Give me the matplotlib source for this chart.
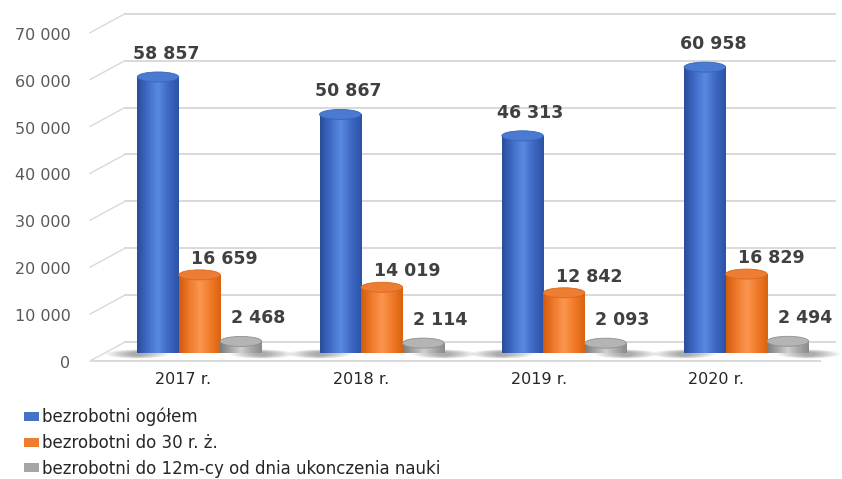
import numpy as np
import matplotlib
matplotlib.use('Agg')
import matplotlib.pyplot as plt
import matplotlib.transforms as mtransforms
from matplotlib.patches import Rectangle, Ellipse, Patch
from matplotlib.colors import LinearSegmentedColormap

# data
years = ['2017 r.', '2018 r.', '2019 r.', '2020 r.']
ogolem = [58857, 50867, 46313, 60958]
do30 = [16659, 14019, 12842, 16829]
do12m = [2468, 2114, 2093, 2494]
series_names = ['bezrobotni ogółem', 'bezrobotni do 30 r. ż.',
                'bezrobotni do 12m-cy od dnia ukonczenia nauki']
yticks = np.arange(0, 70001, 10000)

W, H = 842, 479
fig = plt.figure(figsize=(W / 100, H / 100), dpi=100)

# axes placed in pixels: x 90..840, y 0 at 353, 70000 at ~25
ax_h = 7 * 46.9
ax = fig.add_axes([90 / W, (H - 353) / H, 750 / W, ax_h / H])
upp = 70000 / ax_h          # data units per pixel (y)
xpp = 1 / 182.3             # data units per pixel (x)

for s in ax.spines.values():
    s.set_visible(False)

grid_c = '#d9d9d9'
ytr = ax.get_yaxis_transform()
back_x0 = 35 / 750
for v in yticks:
    ax.plot([back_x0, 0.993], [v + 11 * upp] * 2, color=grid_c, lw=1.4,
            transform=ytr, zorder=1, clip_on=False)
    ax.plot([0, back_x0], [v - 8 * upp, v + 11 * upp], color=grid_c, lw=1.0,
            transform=ytr, zorder=1, clip_on=False)
# floor front edge
ax.plot([2 / 750, 730 / 750], [-8 * upp] * 2, color=grid_c, lw=1.4,
        transform=ytr, zorder=1, clip_on=False)

cmaps = [
    LinearSegmentedColormap.from_list('b', ['#2a4c98', '#3f6cc8', '#5a8ae0', '#3d68c4', '#2b52a4']),
    LinearSegmentedColormap.from_list('o', ['#d25a0c', '#ee7a2c', '#fb9650', '#f07a28', '#d9620f']),
    LinearSegmentedColormap.from_list('g', ['#7c7c7c', '#a5a5a5', '#cfcfcf', '#a8a8a8', '#8a8a8a']),
]
tops = ['#4a7ad2', '#ee7d34', '#b4b4b4']
top_edges = ['#3a63b8', '#d8681c', '#909090']
label_dx = [8, 25, 17]
label_dy = [23, 16, 23]

bw = 41.5 * xpp
eh = 10 * upp
grad = np.linspace(0, 1, 256).reshape(1, -1)
x = np.arange(len(years))

# soft floor shadows at the outer sides of each group
for i in x:
    for side, edge in [(-1, i - 1.5 * bw), (1, i + 1.5 * bw)]:
        for k in range(14):
            w = (64 - k * 4) * xpp
            ax.add_patch(Ellipse((edge, -1 * upp), w, (9 - k * 0.35) * upp,
                                 facecolor='#3a3a3a', edgecolor='none', alpha=0.035,
                                 zorder=2, clip_on=False))

for j, vals in enumerate([ogolem, do30, do12m]):
    for i, h in zip(x, vals):
        xc = i + (j - 1) * bw
        x0, x1 = xc - bw / 2, xc + bw / 2
        body = ax.imshow(grad, cmap=cmaps[j], extent=(x0, x1, -eh, h),
                         aspect='auto', zorder=3, interpolation='bilinear')
        body.set_clip_path(Rectangle((x0, 0), bw, h, transform=ax.transData))
        base = ax.imshow(grad, cmap=cmaps[j], extent=(x0, x1, -eh, h),
                         aspect='auto', zorder=3, interpolation='bilinear')
        base.set_clip_path(Ellipse((xc, 0), bw, eh, transform=ax.transData))
        ax.add_patch(Ellipse((xc, h), bw, eh, facecolor=tops[j],
                             edgecolor=top_edges[j], lw=0.6, zorder=4))
        ax.annotate(f'{h:,}'.replace(',', ' '), (xc, h),
                    xytext=(label_dx[j] * 0.72, label_dy[j] * 0.72),
                    textcoords='offset points', ha='center', va='center',
                    fontsize=12.5, fontweight='bold', color='#404040', zorder=5)

ax.set_xlim((90 - 199.5) * xpp, (840 - 199.5) * xpp)
ax.set_ylim(0, 70000)

# category labels (shifted for the perspective)
ax.set_xticks(-0.0894 + 0.9748 * x)
ax.set_xticklabels(years, fontsize=11.5, color='#262626')
ax.set_yticks(yticks)
ax.set_yticklabels([f'{v:,}'.replace(',', ' ') for v in yticks],
                   fontsize=11.5, color='#595959')
ax.tick_params(axis='x', length=0, pad=14)
ax.tick_params(axis='y', length=0, pad=14)
shift = mtransforms.ScaledTranslation(0, -9 / 100, fig.dpi_scale_trans)
for lab in ax.get_yticklabels():
    lab.set_transform(lab.get_transform() + shift)

handles = [Patch(facecolor=c, edgecolor='none') for c in ['#4472c4', '#ed7d31', '#a5a5a5']]
fig.legend(handles, series_names, loc='upper left', bbox_to_anchor=(24 / W, 1 - 408 / H),
           frameon=False, fontsize=12, handlelength=0.9, handleheight=0.45,
           handletextpad=0.2, labelspacing=0.45, borderaxespad=0, borderpad=0,
           labelcolor='#262626')

fig.savefig('out.png', dpi=100)
